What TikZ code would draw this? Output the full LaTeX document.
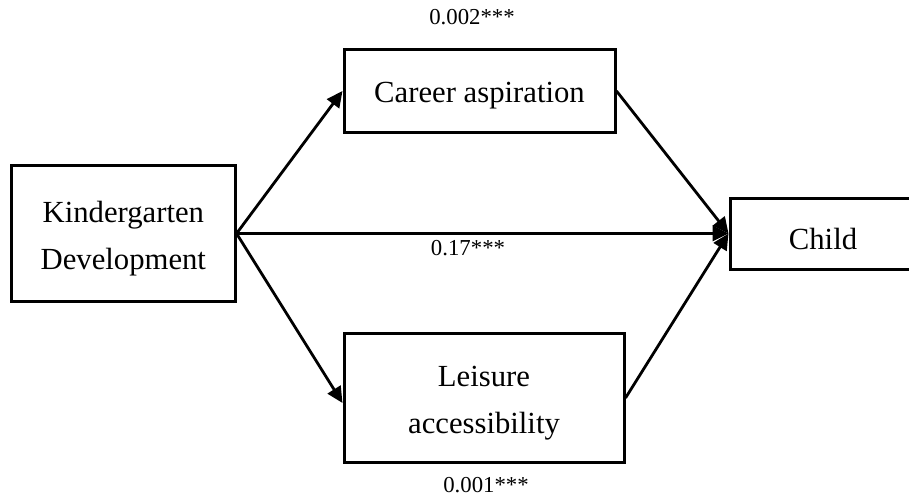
\documentclass[tikz,border=0pt]{standalone}
\usepackage{fontspec}
\setmainfont{Liberation Serif}
\usetikzlibrary{arrows.meta}
\begin{document}
\begin{tikzpicture}[x=1pt,y=-1pt,
  box/.style={draw=black,line width=3pt,inner sep=0pt},
  txt/.style={inner sep=0pt,align=center,yshift=-5pt,
    font=\fontsize{30.7}{47}\selectfont},
  lbl/.style={inner sep=0pt,font=\fontsize{22.8}{27}\selectfont},
  conn/.style={line width=2.8pt,-{Triangle[length=16pt,width=15pt]}}]
\useasboundingbox (0,0) rectangle (909,497);
\clip (0,0) rectangle (909,497);
\node[box,minimum width=223.5pt,minimum height=135pt] (K) at (123.3,233.5) {};
\node[box,minimum width=271pt,minimum height=82.5pt] (C) at (479.5,91) {};
\node[box,minimum width=280pt,minimum height=129.5pt] (L) at (484,398) {};
\node[box,minimum width=186pt,minimum height=71pt] (H) at (823,233.5) {};
\node[txt] (Kt) at (K) {Kindergarten\\Development};
\node[txt] (Ct) at (C) {Career aspiration};
\node[txt] (Lt) at (L) {Leisure\\accessibility};
\node[txt] (Ht) at (H) {Child};
\node[lbl] (l1) at (472,17) {0.002***};
\node[lbl] (l2) at (468,248) {0.17***};
\node[lbl] (l3) at (486,485) {0.001***};
\draw[conn] (K.east) -- (C.west);
\draw[conn] (K.east) -- ([yshift=-5pt]L.west);
\draw[conn] (K.east) -- (H.west);
\draw[conn] (C.east) -- (H.west);
\draw[conn] (L.east) -- (H.west);
\end{tikzpicture}
\end{document}
